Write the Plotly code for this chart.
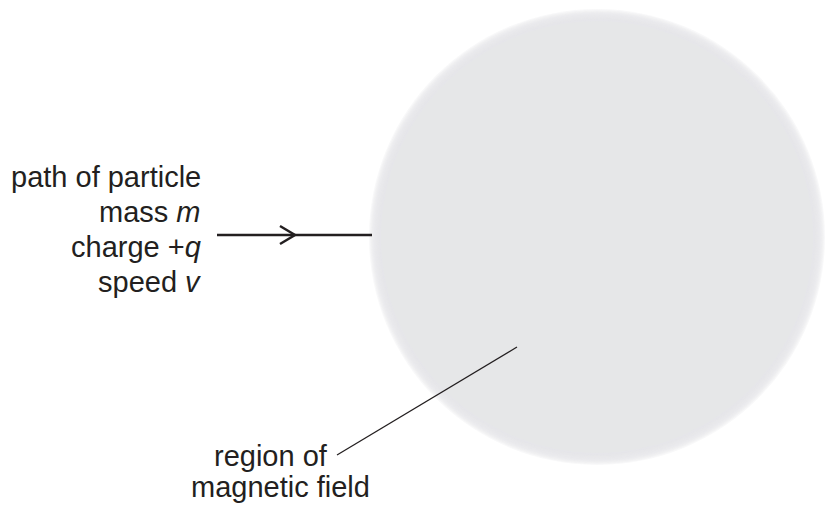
import plotly.graph_objects as go

W, H = 827, 511
INK = "#231f20"
FIELD = "#e6e7e8"

# Diagram geometry (pixel-space data)
field_center = [597, 237]
field_radius = [222]
path_x = [217, 372]
path_y = [235, 235]
arrow_x = [280, 295, 280]
arrow_y = [226, 235, 244]
pointer_x = [517, 337]
pointer_y = [347, 455]

left_labels = ["path of particle", "mass <i>m</i>", "charge +<i>q</i>", "speed <i>v</i>"]
left_label_x = [203, 203, 203, 203]
left_label_y = [188, 223, 258, 293]  # baselines

bottom_labels = ["region of", "magnetic field"]
bottom_label_x = [330, 372]
bottom_label_y = [467, 498]

fig = go.Figure()

shapes = []
cx, cy = field_center
r = field_radius[0]
# soft edge: stacked translucent circles
n = 10
for i in range(n):
    rr = r + 6 - i * 1.2
    shapes.append(dict(type="circle", xref="x", yref="y",
                       x0=cx - rr, x1=cx + rr, y0=cy - rr, y1=cy + rr,
                       fillcolor=FIELD, opacity=0.28, line=dict(width=0), layer="below"))
rr = r - 6
shapes.append(dict(type="circle", xref="x", yref="y",
                   x0=cx - rr, x1=cx + rr, y0=cy - rr, y1=cy + rr,
                   fillcolor=FIELD, opacity=1, line=dict(width=0), layer="below"))

fig.add_trace(go.Scatter(x=path_x, y=path_y, mode="lines",
                         line=dict(color=INK, width=2.5), hoverinfo="skip"))
fig.add_trace(go.Scatter(x=arrow_x, y=arrow_y, mode="lines",
                         line=dict(color=INK, width=2.5), hoverinfo="skip"))
fig.add_trace(go.Scatter(x=pointer_x, y=pointer_y, mode="lines",
                         line=dict(color=INK, width=1.3), hoverinfo="skip"))

annotations = []
FS = 29
for t, x, y in zip(left_labels, left_label_x, left_label_y):
    annotations.append(dict(text=t, x=x, y=y + 7, xref="x", yref="y",
                            xanchor="right", yanchor="bottom", showarrow=False,
                            font=dict(family="Liberation Sans, Arial", size=FS, color=INK)))
for t, x, y in zip(bottom_labels, bottom_label_x, bottom_label_y):
    annotations.append(dict(text=t, x=x, y=y + 7, xref="x", yref="y",
                            xanchor="right", yanchor="bottom", showarrow=False,
                            font=dict(family="Liberation Sans, Arial", size=FS, color=INK)))

fig.update_layout(
    width=W, height=H,
    margin=dict(l=0, r=0, t=0, b=0),
    paper_bgcolor="white", plot_bgcolor="white",
    showlegend=False,
    shapes=shapes, annotations=annotations,
    xaxis=dict(range=[0, W], visible=False, fixedrange=True),
    yaxis=dict(range=[H, 0], visible=False, fixedrange=True),
)

fig.write_html("out.html", config={"displayModeBar": False},
               post_script="document.body.style.margin='0';document.body.style.overflow='hidden';")
